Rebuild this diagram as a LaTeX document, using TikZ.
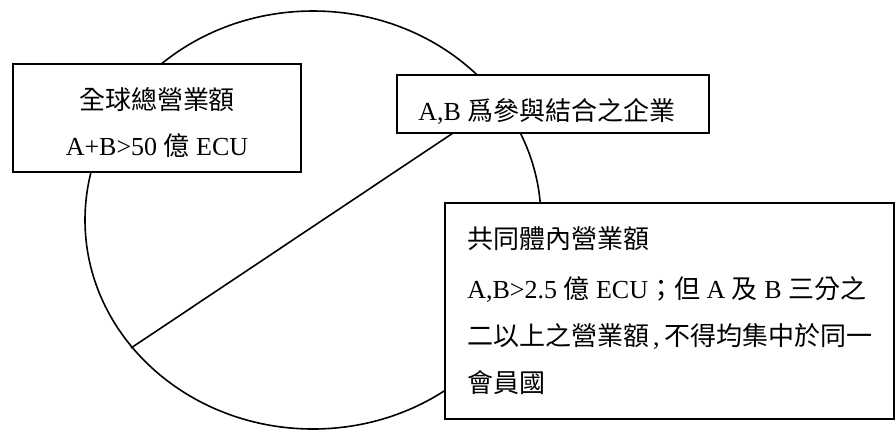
\documentclass[tikz,border=0pt]{standalone}
\usepackage{fontspec}
\setmainfont{Liberation Serif}
\newfontfamily\cjk{Noto Sans CJK TC}
\newcommand\C[1]{{\cjk #1}}
\begin{document}
\begin{tikzpicture}[x=0.75pt,y=-0.75pt,
  box/.style={draw, line width=1.2pt, fill=white, inner sep=0pt, rectangle},
  txt/.style={inner sep=0pt, font=\fontsize{19.5}{23}\selectfont},
  rule/.style={line width=1.2pt}]
\useasboundingbox (0,0) rectangle (896,430);
\draw[rule] (313,220) ellipse [x radius=228, y radius=209];
\coordinate (p1) at (131,348);
\coordinate (p2) at (501,101);
\draw[rule] (p1) -- (p2);
\node[box, minimum width=216pt, minimum height=81pt] (b1) at (157,118) {};
\node[box, minimum width=234pt, minimum height=43.5pt] (b2) at (553,104) {};
\node[box, minimum width=336.75pt, minimum height=162pt] (b3) at (669.5,311) {};
\node[txt, anchor=base] (t1a) at (157,109) {\C{全球總營業額}};
\node[txt, anchor=base] (t1b) at (157,155) {A+B>50 \C{億} ECU};
\node[txt, anchor=base west] (t2) at (418,120) {A,B \C{爲參與結合之企業}};
\node[txt, anchor=base west] (t3a) at (467,248) {\C{共同體內營業額}};
\node[txt, anchor=base west] (t3b) at (467,298) {A,B>2.5 \C{億} ECU\C{；但} A \C{及} B \C{三分之}};
\node[txt, anchor=base west] (t3c) at (467,345) {\C{二以上之營業額}\hspace{0.15em},\hspace{0.2em}\C{不得均集中於同一}};
\node[txt, anchor=base west] (t3d) at (467,392) {\C{會員國}};
\end{tikzpicture}
\end{document}
